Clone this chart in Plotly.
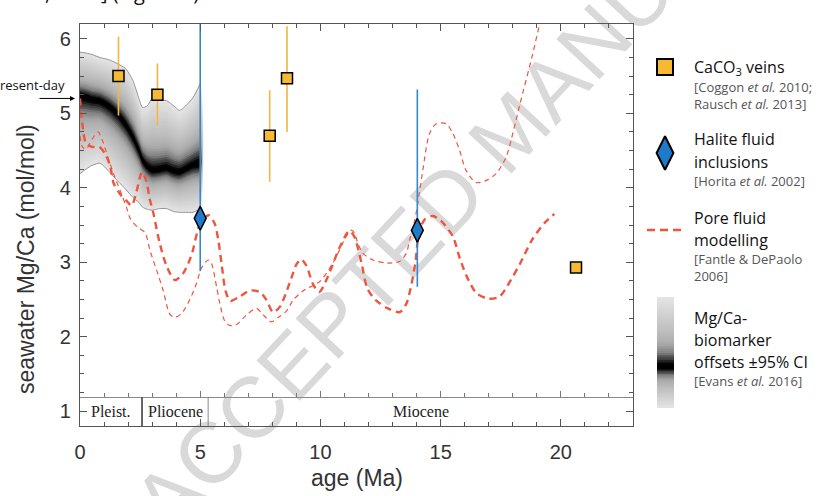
import numpy as np
import plotly.graph_objects as go

# ---------------- data ----------------
# Mg/Ca-biomarker offsets +-95% CI (Evans et al. 2016)
ci_age = [0, 0.25, 0.5, 0.83, 1.2, 1.54, 1.9, 2.2, 2.45, 2.6, 2.8, 3.0, 3.3, 3.6, 3.9, 4.15, 4.45, 4.7, 5.0]
ci_mid = [5.24, 5.22, 5.19, 5.17, 5.10, 5.00, 4.85, 4.68, 4.50, 4.37, 4.28, 4.23, 4.24, 4.26, 4.22, 4.21, 4.26, 4.30, 4.32]
ci_hi = [5.82, 5.81, 5.79, 5.75, 5.72, 5.67, 5.60, 5.44, 5.20, 5.08, 5.10, 5.20, 5.18, 5.17, 5.10, 5.04, 5.12, 5.21, 5.40]
ci_lo = [4.19, 4.25, 4.30, 4.33, 4.22, 4.10, 3.98, 3.87, 3.80, 3.74, 3.71, 3.70, 3.72, 3.72, 3.68, 3.67, 3.67, 3.67, 3.72]

# Pore fluid modelling (Fantle & DePaolo 2006): thick and thin dashed curves
pore_thick_age = [0, 0.1, 0.25, 0.5, 0.8, 1.05, 1.25, 1.4, 1.7, 1.95, 2.15, 2.35, 2.58, 2.75, 2.9, 3.05,
                  3.32, 3.6, 3.95, 4.29, 4.64, 5.0, 5.35, 5.6, 5.75, 5.9, 6.05, 6.25, 6.65, 7.06, 7.48,
                  7.76, 8.03, 8.31, 8.72, 9.0, 9.2, 9.42, 9.7, 9.95, 10.3, 10.8, 11.2, 11.4, 11.7, 11.95,
                  12.3, 12.8, 13.3, 13.57, 13.75, 13.95, 14.1, 14.35, 14.68, 15.0, 15.5, 15.8, 16.1, 16.5,
                  17.0, 17.45, 17.9, 18.3, 18.8, 19.3, 19.73]
pore_thick_val = [5.20, 4.85, 4.60, 4.55, 4.55, 4.45, 4.30, 4.06, 3.90, 3.82, 3.76, 3.95, 4.21, 4.10, 3.85, 3.66,
                  3.25, 2.95, 2.76, 2.85, 3.10, 3.52, 3.63, 3.52, 3.30, 2.95, 2.62, 2.48, 2.54, 2.62, 2.60,
                  2.49, 2.33, 2.40, 2.72, 2.97, 3.04, 2.95, 2.70, 2.60, 2.80, 3.20, 3.42, 3.35, 3.00, 2.65,
                  2.49, 2.38, 2.33, 2.44, 2.65, 3.00, 3.40, 3.58, 3.62, 3.56, 3.35, 3.05, 2.80, 2.58,
                  2.51, 2.54, 2.75, 2.98, 3.30, 3.52, 3.65]
pore_thin_age = [0, 0.1, 0.25, 0.5, 0.75, 0.95, 1.16, 1.44, 1.72, 1.93, 2.1, 2.4, 2.7, 2.91, 3.19, 3.46,
                 3.74, 3.95, 4.22, 4.57, 4.85, 5.05, 5.33, 5.45, 5.68, 5.82, 6.02, 6.23, 6.5, 6.92, 7.34,
                 7.6, 7.96, 8.3, 8.6, 8.86, 9.3, 9.97, 10.52, 11.08, 11.28, 11.42, 11.56, 11.77, 12.18,
                 12.74, 13.29, 13.57, 13.71, 13.92, 14.1, 14.26, 14.54, 14.82, 15.23, 15.51, 15.79, 16.06,
                 16.48, 16.9, 17.31, 17.72, 17.93, 18.28, 18.83, 19.1, 19.25]
pore_thin_val = [4.70, 4.55, 4.52, 4.65, 4.75, 4.62, 4.41, 4.15, 3.92, 3.74, 3.58, 3.47, 3.40, 3.16, 2.89, 2.62,
                 2.30, 2.26, 2.31, 2.50, 2.72, 2.92, 3.03, 3.00, 2.67, 2.44, 2.21, 2.15, 2.16, 2.29, 2.38,
                 2.30, 2.20, 2.27, 2.35, 2.49, 2.62, 2.74, 2.99, 3.35, 3.43, 3.39, 3.25, 3.12, 3.03,
                 2.99, 3.01, 3.12, 3.30, 3.56, 3.90, 4.24, 4.73, 4.86, 4.86, 4.73, 4.50, 4.23,
                 4.07, 4.10, 4.19, 4.41, 4.64, 5.10, 5.80, 6.18, 6.40]

# CaCO3 veins (Coggon et al. 2010; Rausch et al. 2013)
caco3_age = [1.60, 3.22, 7.89, 8.61, 20.63]
caco3_val = [5.50, 5.25, 4.70, 5.47, 2.93]
caco3_err_hi = [0.53, 0.42, 0.61, 0.70, 0.0]
caco3_err_lo = [0.53, 0.41, 0.62, 0.72, 0.0]

# Halite fluid inclusions (Horita et al. 2002)
halite_age = [5.0, 14.03]
halite_val = [3.59, 3.43]
halite_err_hi = [2.61, 1.89]
halite_err_lo = [0.71, 0.76]

# Geological epochs
epoch_names = ["Pleist.", "Pliocene", "Miocene"]
epoch_start = [0.0, 2.58, 5.33]
epoch_end = [2.58, 5.33, 23.0]
epoch_band_top = 1.19

present_day_value = 5.2
x_range = [0, 23]
y_range = [0.8, 6.2]

# ---------------- layout helpers ----------------
W, H = 820, 496
ML, MT, MB = 80, 24, 70
PW = W - ML
PH = H - MT - MB
XD = (633 - ML) / PW


def px(xp):
    return (xp - ML) / PW


def py(yp):
    return (H - MB - yp) / PH


RED = "#EE553F"
ORANGE = "#F8B932"
BLUE = "#1E7BCB"
AXC = "#555555"
TXT = "#333333"

fig = go.Figure()

# ---------------- gradient CI band ----------------
N = 30


def dark(t):
    return 0.10 + 0.30 * (1 - t) + 0.58 * np.exp(-(t / 0.17) ** 2)


T = [1 - dark((k + 0.5) / N) for k in range(N)]
alphas = [0.0] * N
T_next = 1.0
for k in reversed(range(N)):
    alphas[k] = 1 - T[k] / T_next
    T_next = T[k]

a = np.array(ci_age)
m = np.array(ci_mid)
h = np.array(ci_hi)
lo = np.array(ci_lo)
for k in range(N):
    f = (k + 1) / N
    up = m + f * (h - m)
    dn = m + f * (lo - m)
    fig.add_trace(go.Scatter(
        x=np.concatenate([a, a[::-1]]), y=np.concatenate([up, dn[::-1]]),
        fill="toself", fillcolor=f"rgba(0,0,0,{alphas[k]:.4f})",
        line=dict(width=0, shape="spline", smoothing=0.7), mode="lines",
        hoverinfo="skip", showlegend=False))
for arr in (ci_hi, ci_lo):
    fig.add_trace(go.Scatter(x=ci_age, y=arr, mode="lines",
                             line=dict(color="#8a8a8a", width=0.9, shape="spline", smoothing=0.7),
                             hoverinfo="skip", showlegend=False))

# ---------------- pore fluid model curves ----------------
fig.add_trace(go.Scatter(x=pore_thin_age, y=pore_thin_val, mode="lines",
                         line=dict(color=RED, width=1.2, dash="5px,4px", shape="spline", smoothing=0.8),
                         hoverinfo="skip", showlegend=False))
fig.add_trace(go.Scatter(x=pore_thick_age, y=pore_thick_val, mode="lines",
                         line=dict(color=RED, width=2.4, dash="7px,5px", shape="spline", smoothing=0.8),
                         hoverinfo="skip", showlegend=False))

# ---------------- halite & CaCO3 ----------------
fig.add_trace(go.Scatter(
    x=halite_age, y=halite_val, mode="markers",
    marker=dict(symbol="diamond-tall", size=17, color=BLUE, line=dict(color="black", width=1.5)),
    error_y=dict(type="data", symmetric=False, array=halite_err_hi, arrayminus=halite_err_lo,
                 color="#3388D2", thickness=1.6, width=0),
    hoverinfo="skip", showlegend=False))
fig.add_trace(go.Scatter(
    x=caco3_age, y=caco3_val, mode="markers",
    marker=dict(symbol="square", size=11, color=ORANGE, line=dict(color="black", width=1.5)),
    error_y=dict(type="data", symmetric=False, array=caco3_err_hi, arrayminus=caco3_err_lo,
                 color="#F3B63F", thickness=1.6, width=0),
    hoverinfo="skip", showlegend=False))

# dummy trace so the epoch-band tick axis renders
fig.add_trace(go.Scatter(x=x_range, y=[None, None], xaxis="x2", yaxis="y",
                         mode="lines", hoverinfo="skip", showlegend=False))

# ---------------- legend keys (pixel-space axis) ----------------
fig.add_trace(go.Scatter(x=[665], y=[67], xaxis="x3", yaxis="y3", mode="markers",
                         marker=dict(symbol="square", size=16, color=ORANGE,
                                     line=dict(color="black", width=2)),
                         hoverinfo="skip", showlegend=False))
fig.add_trace(go.Scatter(x=[665], y=[153], xaxis="x3", yaxis="y3", mode="markers",
                         marker=dict(symbol="diamond-tall", size=24, color=BLUE,
                                     line=dict(color="black", width=2)),
                         hoverinfo="skip", showlegend=False))
fig.add_trace(go.Scatter(x=[647, 684], y=[230, 230], xaxis="x3", yaxis="y3", mode="lines",
                         line=dict(color=RED, width=2.5, dash="8px,5px"),
                         hoverinfo="skip", showlegend=False))

shapes = []
# legend gradient bar
for k in range(N):
    f = (k + 1) / N
    shapes.append(dict(type="rect", xref="x3", yref="y3", x0=657, x1=674,
                       y0=367 - f * 70, y1=367 + f * 41,
                       fillcolor=f"rgba(0,0,0,{alphas[k]:.4f})", line=dict(width=0)))

# epoch dividers
for i, s in enumerate(epoch_start[1:]):
    shapes.append(dict(type="line", xref="x", yref="y", x0=s, x1=s, y0=y_range[0], y1=epoch_band_top,
                       line=dict(color="#555" if i == 0 else "#8a8a8a", width=1.8 if i == 0 else 1.0)))

# watermark (below traces)
cxp, cyp = 505, 125
shapes.append(dict(type="line", xref="paper", yref="paper", layer="below",
                   x0=px(cxp - 60), x1=px(cxp + 60), y0=py(cyp + 64), y1=py(cyp - 64),
                   line=dict(color="rgba(0,0,0,0)", width=0),
                   label=dict(text="ACCEPTED MANUSCRIPT", textangle=-47, textposition="middle",
                              xanchor="center", yanchor="middle",
                              font=dict(family="Liberation Sans, Arial", size=86, color="#d9d9d9"))))

annotations = []
# epoch labels
for name, s, e in zip(epoch_names, epoch_start, epoch_end):
    annotations.append(dict(x=(s + e) / 2, y=1.0, xref="x", yref="y", text=name, showarrow=False,
                            font=dict(family="Liberation Serif, Times New Roman", size=16, color="#222")))

# axis titles
annotations.append(dict(x=XD / 2, y=py(478), xref="paper", yref="paper", text="age (Ma)",
                        showarrow=False, xanchor="center", yanchor="middle",
                        font=dict(family="Liberation Sans, Arial", size=23, color=TXT)))
annotations.append(dict(x=px(26), y=py(259), xref="paper", yref="paper",
                        text="seawater Mg/Ca (mol/mol)", textangle=-90,
                        showarrow=False, xanchor="center", yanchor="middle",
                        font=dict(family="Liberation Sans, Arial", size=23, color=TXT)))

# present-day arrow + label
annotations.append(dict(x=px(75), y=present_day_value, xref="paper", yref="y", text="",
                        showarrow=True, ax=-37, ay=0, arrowhead=2, arrowsize=1, arrowwidth=1,
                        arrowcolor="black"))
annotations.append(dict(x=px(67), y=present_day_value + 0.18, xref="paper", yref="y",
                        text="present-day", showarrow=False, xanchor="right", yanchor="middle",
                        font=dict(family="Open Sans", size=13, color="#111")))

# cut-off page text at top
annotations.append(dict(x=px(-2), y=py(8), xref="paper", yref="paper",
                        text="et al., 2016] (Figure 5).", showarrow=False,
                        xanchor="left", yanchor="bottom",
                        font=dict(family="Open Sans", size=20, color="#111")))

# legend text
LX = px(692)
leg_main = [("CaCO<sub>3</sub> veins", 67), ("Halite fluid", 139), ("inclusions", 162),
            ("Pore fluid", 218), ("modelling", 240), ("Mg/Ca-", 318), ("biomarker", 340),
            ("offsets \u00b195% CI", 362)]
leg_ref = [("[Coggon <i>et al.</i> 2010;<br>Rausch <i>et al.</i> 2013]", 95),
           ("[Horita <i>et al.</i> 2002]", 181), ("[Fantle & DePaolo<br>2006]", 267),
           ("[Evans <i>et al.</i> 2016]", 381)]
for t, yp in leg_main:
    annotations.append(dict(x=LX, y=py(yp), xref="paper", yref="paper", text=t, showarrow=False,
                            xanchor="left", yanchor="middle", align="left",
                            font=dict(family="Open Sans", size=16, color="#111")))
for t, yp in leg_ref:
    annotations.append(dict(x=LX, y=py(yp), xref="paper", yref="paper", text=t, showarrow=False,
                            xanchor="left", yanchor="middle", align="left",
                            font=dict(family="Open Sans", size=13, color="#555")))

tickfont = dict(family="Liberation Sans, Arial", size=20, color=TXT)
fig.update_layout(
    width=W, height=H, margin=dict(l=ML, r=0, t=MT, b=MB),
    paper_bgcolor="white", plot_bgcolor="rgba(0,0,0,0)", showlegend=False,
    xaxis=dict(domain=[0, XD], range=x_range, tickvals=[0, 5, 10, 15, 20], ticks="inside",
               ticklen=7, tickwidth=1.2, tickcolor=AXC, showline=True, linecolor=AXC, linewidth=1.4,
               mirror="ticks", showgrid=False, zeroline=False, tickfont=tickfont,
               ticklabelstandoff=8,
               minor=dict(ticks="inside", ticklen=4, tickwidth=1, tickcolor=AXC, dtick=1, showgrid=False)),
    yaxis=dict(domain=[0, 1], range=y_range, tickvals=[1, 2, 3, 4, 5, 6], ticks="inside",
               ticklen=7, tickwidth=1.2, tickcolor=AXC, showline=True, linecolor=AXC, linewidth=1.4,
               mirror="ticks", showgrid=False, zeroline=False, tickfont=tickfont,
               ticklabelstandoff=4,
               minor=dict(ticks="inside", ticklen=4, tickwidth=1, tickcolor=AXC, dtick=0.25,
                          tick0=0, showgrid=False)),
    xaxis2=dict(overlaying="x", anchor="free",
                position=(epoch_band_top - y_range[0]) / (y_range[1] - y_range[0]),
                domain=[0, XD], range=x_range, tickvals=[0, 5, 10, 15, 20], ticks="inside",
                ticklen=6, tickwidth=1.1, tickcolor="#777", showline=True, linecolor="#888",
                linewidth=1.1, showticklabels=False, showgrid=False, zeroline=False,
                minor=dict(ticks="inside", ticklen=4, tickwidth=1, tickcolor="#777", dtick=1,
                           showgrid=False)),
    xaxis3=dict(domain=[px(640), 1], range=[640, 820], visible=False, anchor="y3"),
    yaxis3=dict(domain=[0, 1], range=[H - MB, MT], visible=False, anchor="x3"),
    shapes=shapes, annotations=annotations,
)

fig.write_html("out.html")
